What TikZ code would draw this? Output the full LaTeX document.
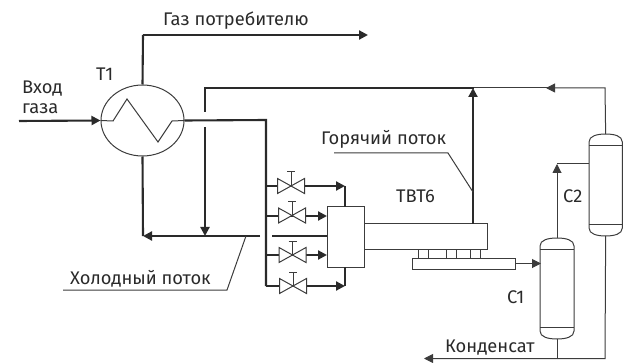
\documentclass[tikz,border=0pt]{standalone}
\usepackage{fontspec}
\setmainfont{Fira Sans}
\usetikzlibrary{arrows.meta,shapes.geometric}
\definecolor{ink}{HTML}{2A2A2A}
\definecolor{inkthin}{HTML}{3C3C3C}
\tikzset{
  thick line/.style={draw=ink,line width=2.1pt},
  thin line/.style={draw=inkthin,line width=1pt},
  head/.style={-{Triangle[length=9pt,width=9pt]}},
  lbl/.style={text=ink,font=\fontsize{18.3pt}{21pt}\selectfont,inner sep=0pt},
  equip/.style={draw=inkthin,line width=1pt,fill=white},
  pics/valve/.style={code={
    \draw[thin line,fill=white] (-13.5,-7.5)--(13.5,7.5)--(13.5,-7.5)--(-13.5,7.5)--cycle;
    \draw[thin line] (0,0)--(0,-14) (-4,-14)--(4,-14);
  }}
}
\newcommand{\vessel}[5]{% name, xl, xr, yt, yb ; heads 12 high
  \draw[equip] (#2,#4+8)..controls (#2,#4+2) and (#2+8,#4) .. ({(#2+#3)/2},#4)
     ..controls (#3-8,#4) and (#3,#4+2) .. (#3,#4+8) -- (#3,#5-8)
     ..controls (#3,#5-2) and (#3-8,#5) .. ({(#2+#3)/2},#5)
     ..controls (#2+8,#5) and (#2,#5-2) .. (#2,#5-8) -- cycle;
  \draw[thin line] (#2,#4+11.5)--(#3,#4+11.5) (#2,#5-11.5)--(#3,#5-11.5);
  \coordinate (#1top) at ({(#2+#3)/2},#4);
  \coordinate (#1bot) at ({(#2+#3)/2},#5);
}
\begin{document}
\begin{tikzpicture}[x=1pt,y=-1pt]
\useasboundingbox (0,0) rectangle (623,363);
% coordinates
\coordinate (gasin) at (19,121);
\coordinate (gasout) at (368,35);
\coordinate (gascorner) at (143,35);
\coordinate (hotcorner) at (205,88);
\coordinate (hotjoin) at (474,88);
\coordinate (c2corner) at (605,88);
\coordinate (condend) at (424,358.5);
\coordinate (c1bus) at (557,358.5);
\coordinate (c2bus) at (605,358.5);
\coordinate (manifold) at (266,120);
\coordinate (manifoldbot) at (266,286);
\coordinate (coldgapR) at (272,236);
\coordinate (coldgapL) at (260,236);
\coordinate (coldend) at (143,236);
\coordinate (hotgapT) at (205,112);
\coordinate (hotgapB) at (205,127);
% vessels
\vessel{c1}{540}{574}{238}{339}
\vessel{c2}{589}{622.3}{134}{236}
% pipes
\draw[thin line] (c1bot)--(c1bus);
\draw[thin line,head] (c2bot)--(c2bus)--(condend);
\draw[thin line,head] (c2top)--(c2corner)--(546,88);
\draw[thin line] (550,88)--(hotjoin);
\draw[thin line,head] (c1top)--(557,164);
\draw[thin line] (557,164)--(589,164);
% T1
\node[equip,ellipse,minimum width=83pt,minimum height=71pt,inner sep=0pt] (t1) at (142.5,120.5) {};
\draw[thick line] (t1.north)--(gascorner);
\draw[thick line,head] (gascorner)--(gasout);
\draw[thick line,head] (gasin)--(t1.west);
\draw[thin line] (t1.west)--(113,121)--(127,99)--(158,142)--(172,121)--(t1.east);
\draw[thick line] (t1.east)--(manifold)--(manifoldbot);
\draw[thick line] (t1.south)--(coldend);
% hot line
\draw[thick line] (hotgapT)--(hotcorner)--(hotjoin);
\draw[thick line,head] (hotgapB)--(205,236);
% box
\node[equip,minimum width=37pt,minimum height=60pt,inner sep=0pt] (box) at (345.5,237) {};
\node[equip,minimum width=123pt,minimum height=25pt,inner sep=0pt,anchor=west] (tube) at (364,236.5) {};
\node[equip,minimum width=103pt,minimum height=11pt,inner sep=0pt] (plate) at (463.5,263.5) {};
\foreach \x in {423,451,475}{\node[equip,minimum width=10pt,minimum height=9pt,inner sep=0pt] at (\x,253.5) {};}
\draw[thin line,head] (plate.east)--(541,263.5);
\draw[thick line,head] (473,224)--(473,88);
% cold return
\draw[thick line] (box.west |- coldgapR)--(coldgapR);
\draw[thick line,head] (coldgapL)--(143,236);
% valve branches
\draw[thick line,head] (manifold |- 0,186)--(345,186);
\draw[thick line] (345,186)--(345,207);
\draw[thick line,head] (manifold |- 0,216)--(327,216);
\draw[thick line,head] (manifold |- 0,255)--(327,255);
\draw[thick line,head] (manifoldbot)--(345,286);
\draw[thick line] (345,286)--(345,267);
\pic at (291,186) {valve};
\pic at (292,215.5) {valve};
\pic at (292.5,255) {valve};
\pic at (293,286) {valve};
% labels
\node[lbl,anchor=base west] at (163,26) {Газ потребителю};
\node[lbl,anchor=base west] at (96,81) {Т1};
\node[lbl,anchor=base west] at (22,94) {Вход};
\node[lbl,anchor=base west] at (22,114) {газа};
\node[lbl,anchor=base west] (hotlbl) at (321,145) {Горячий поток};
\node[lbl,anchor=base west] at (396,203) {ТВТ6};
\node[lbl,anchor=base west] at (507,303) {С1};
\node[lbl,anchor=base west] at (563,203) {С2};
\node[lbl,anchor=base west] (coldlbl) at (70,284) {Холодный поток};
\node[lbl,anchor=base west] at (445,352) {Конденсат};
% leaders
\draw[thin line] (334,153)--(448,153)--(473,192);
\draw[thin line] (63,290)--(227,290)--(246,236);
\end{tikzpicture}
\end{document}
